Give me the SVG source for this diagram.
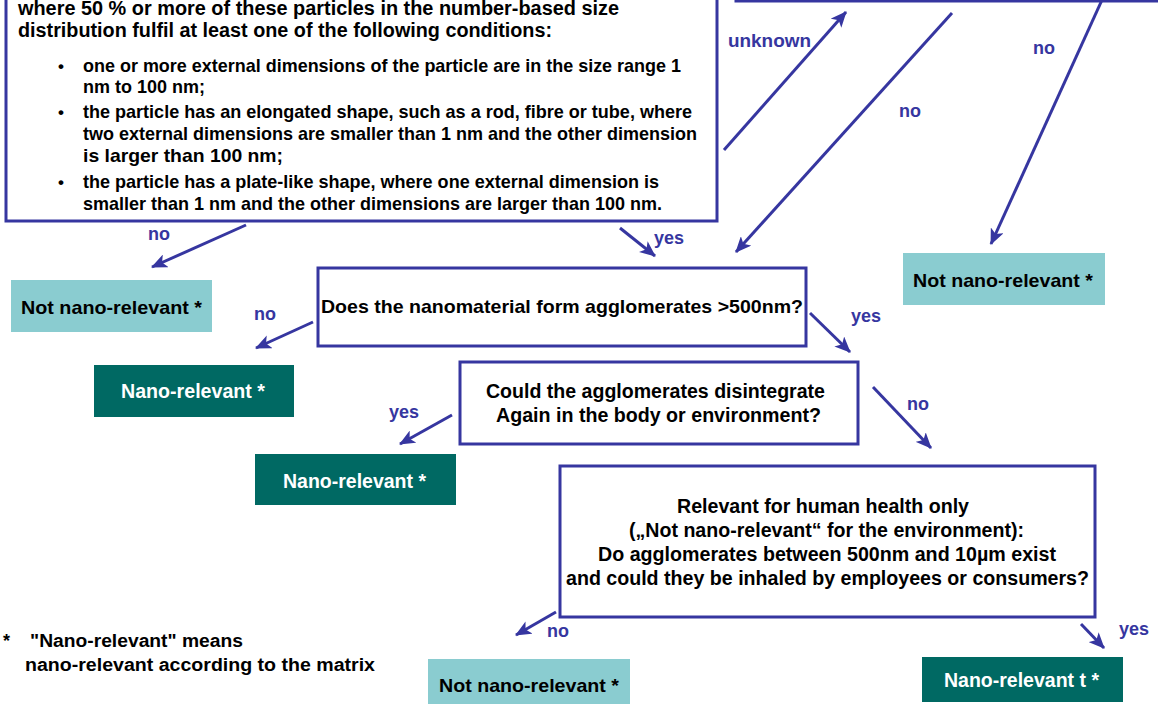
<svg xmlns="http://www.w3.org/2000/svg" width="1158" height="704" viewBox="0 0 1158 704">
<style>
text{font-family:"Liberation Sans",Arial,sans-serif;font-weight:bold}
.box{fill:#fff;stroke:#3636a0;stroke-width:3}
.lt{fill:#8accd0}
.dk{fill:#006963}
.lbl{fill:#3636a0;font-size:18px}
.bk{fill:#000}
.wt{fill:#fff}
.con line{stroke:#3636a0;stroke-width:3;marker-end:url(#ah)}
</style>
<defs>
<marker id="ah" markerUnits="userSpaceOnUse" markerWidth="16" markerHeight="14" viewBox="0 0 16 14" refX="15" refY="7" orient="auto">
<path d="M0,0 L16,7 L0,14 L4,7 Z" fill="#3636a0"/>
</marker>
</defs>
<rect width="1158" height="704" fill="#fff"/>

<g id="def-box">
<rect class="box" x="6" y="-10" width="711" height="231"/>
<text class="bk" x="18" y="15" font-size="20" textLength="601" lengthAdjust="spacingAndGlyphs">where 50 % or more of these particles in the number-based size</text>
<text class="bk" x="18" y="37" font-size="20" textLength="534" lengthAdjust="spacingAndGlyphs">distribution fulfil at least one of the following conditions:</text>
<text class="bk" x="58" y="72" font-size="17">•</text>
<text class="bk" x="83" y="72" font-size="18.5" textLength="598" lengthAdjust="spacingAndGlyphs">one or more external dimensions of the particle are in the size range 1</text>
<text class="bk" x="83" y="93" font-size="18.5" textLength="122" lengthAdjust="spacingAndGlyphs">nm to 100 nm;</text>
<text class="bk" x="58" y="118" font-size="17">•</text>
<text class="bk" x="83" y="118" font-size="18.5" textLength="609" lengthAdjust="spacingAndGlyphs">the particle has an elongated shape, such as a rod, fibre or tube, where</text>
<text class="bk" x="83" y="140" font-size="18.5" textLength="614" lengthAdjust="spacingAndGlyphs">two external dimensions are smaller than 1 nm and the other dimension</text>
<text class="bk" x="83" y="162" font-size="18.5" textLength="200" lengthAdjust="spacingAndGlyphs">is larger than 100 nm;</text>
<text class="bk" x="58" y="188" font-size="17">•</text>
<text class="bk" x="83" y="188" font-size="18.5" textLength="576" lengthAdjust="spacingAndGlyphs">the particle has a plate-like shape, where one external dimension is</text>
<text class="bk" x="83" y="210" font-size="18.5" textLength="579" lengthAdjust="spacingAndGlyphs">smaller than 1 nm and the other dimensions are larger than 100 nm.</text>
</g>

<g id="top-right-box">
<rect class="box" x="736" y="-100" width="500" height="101"/>
</g>

<g id="not-nano-right">
<rect class="lt" x="903" y="253" width="202" height="52"/>
<text class="bk" x="913" y="287" font-size="19" textLength="180" lengthAdjust="spacingAndGlyphs">Not nano-relevant *</text>
</g>

<g id="not-nano-left">
<rect class="lt" x="11" y="280" width="201" height="52"/>
<text class="bk" x="21" y="314" font-size="19" textLength="181" lengthAdjust="spacingAndGlyphs">Not nano-relevant *</text>
</g>

<g id="q-agglomerates">
<rect class="box" x="318" y="268" width="488" height="78"/>
<text class="bk" x="321" y="313" font-size="19" textLength="482" lengthAdjust="spacingAndGlyphs">Does the nanomaterial form agglomerates &gt;500nm?</text>
</g>

<g id="nano-relevant-1">
<rect class="dk" x="94" y="365" width="200" height="52"/>
<text class="wt" x="121" y="398" font-size="20" textLength="144" lengthAdjust="spacingAndGlyphs">Nano-relevant *</text>
</g>

<g id="q-disintegrate">
<rect class="box" x="460" y="362" width="398" height="82"/>
<text class="bk" x="486" y="398" font-size="20" textLength="339" lengthAdjust="spacingAndGlyphs">Could the agglomerates disintegrate</text>
<text class="bk" x="496" y="422" font-size="20" textLength="325" lengthAdjust="spacingAndGlyphs">Again in the body or environment?</text>
</g>

<g id="nano-relevant-2">
<rect class="dk" x="255" y="454" width="201" height="51"/>
<text class="wt" x="283" y="488" font-size="20" textLength="143" lengthAdjust="spacingAndGlyphs">Nano-relevant *</text>
</g>

<g id="q-health">
<rect class="box" x="560" y="466" width="535" height="151"/>
<text class="bk" x="677" y="513" font-size="20" textLength="292" lengthAdjust="spacingAndGlyphs">Relevant for human health only</text>
<text class="bk" x="629" y="537" font-size="20" textLength="395" lengthAdjust="spacingAndGlyphs">(„Not nano-relevant“ for the environment):</text>
<text class="bk" x="598" y="561" font-size="20" textLength="458" lengthAdjust="spacingAndGlyphs">Do agglomerates between 500nm and 10µm exist</text>
<text class="bk" x="566" y="585" font-size="20" textLength="523" lengthAdjust="spacingAndGlyphs">and could they be inhaled by employees or consumers?</text>
</g>

<g id="not-nano-bottom">
<rect class="lt" x="428" y="659" width="202" height="50"/>
<text class="bk" x="439" y="692" font-size="19" textLength="180" lengthAdjust="spacingAndGlyphs">Not nano-relevant *</text>
</g>

<g id="nano-relevant-t">
<rect class="dk" x="922" y="657" width="201" height="45"/>
<text class="wt" x="944" y="687" font-size="20" textLength="155" lengthAdjust="spacingAndGlyphs">Nano-relevant t *</text>
</g>

<g id="connectors" class="con">
<line x1="724" y1="150" x2="846" y2="12"/>
<line x1="952" y1="13" x2="736" y2="252"/>
<line x1="1102" y1="0" x2="991" y2="244"/>
<line x1="246" y1="225" x2="152" y2="267"/>
<line x1="620" y1="228" x2="655" y2="256"/>
<line x1="313" y1="322" x2="256" y2="348"/>
<line x1="810" y1="313" x2="850" y2="352"/>
<line x1="452" y1="415" x2="400" y2="444"/>
<line x1="873" y1="387" x2="931" y2="448"/>
<line x1="556" y1="612" x2="516" y2="635"/>
<line x1="1081" y1="624" x2="1104" y2="648"/>
</g>

<g id="labels">
<text class="lbl" x="728" y="47" textLength="83" lengthAdjust="spacingAndGlyphs">unknown</text>
<text class="lbl" x="1033" y="54">no</text>
<text class="lbl" x="899" y="117">no</text>
<text class="lbl" x="148" y="240">no</text>
<text class="lbl" x="654" y="244">yes</text>
<text class="lbl" x="254" y="320">no</text>
<text class="lbl" x="851" y="322">yes</text>
<text class="lbl" x="389" y="418">yes</text>
<text class="lbl" x="907" y="410">no</text>
<text class="lbl" x="547" y="637">no</text>
<text class="lbl" x="1119" y="635">yes</text>
</g>

<g id="footnote">
<text class="bk" x="3" y="647" font-size="18">*</text>
<text class="bk" x="30" y="647" font-size="18" textLength="213" lengthAdjust="spacingAndGlyphs">"Nano-relevant" means</text>
<text class="bk" x="25" y="671" font-size="18" textLength="350" lengthAdjust="spacingAndGlyphs">nano-relevant according to the matrix</text>
</g>
</svg>
